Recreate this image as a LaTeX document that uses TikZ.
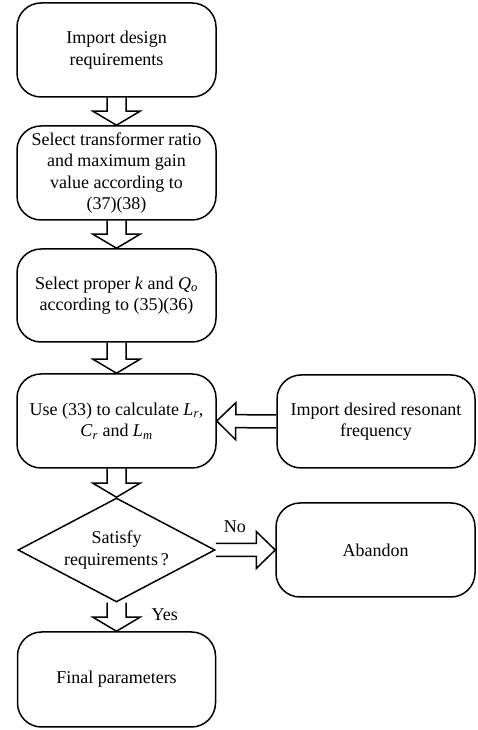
\documentclass[tikz,border=0pt]{standalone}
\usepackage{fontspec}
\setmainfont{Liberation Serif}
\usetikzlibrary{shapes.geometric, calc}
\tikzset{block/.style={draw, line width=1.5pt, rounded corners=24pt, minimum width=199pt, minimum height=94pt, align=center, inner sep=2pt}}
\tikzset{decision/.style={draw, line width=1.5pt, diamond, aspect=1.9, minimum width=197pt, minimum height=104pt, align=center, inner sep=0pt}}
\newcommand{\ital}[2]{\textit{#1}\textsubscript{\textit{#2}}}
\newcommand{\fatarrow}[5]{%
  \draw[line width=1.5pt, line join=miter] let \p1=(#1), \p2=(#2),
    \n1={atan2(\y2-\y1,\x2-\x1)}, \n2={veclen(\x2-\x1,\y2-\y1)} in
    {[shift={(\p1)}, rotate=\n1]
      (0pt,-#3) -- (\n2-#5,-#3) -- (\n2-#5,-#4) -- (\n2,0pt)
      -- (\n2-#5,#4) -- (\n2-#5,#3) -- (0pt,#3)};
}

\begin{document}
\begin{tikzpicture}[x=1pt, y=1pt, font=\fontsize{18}{21.5}\selectfont]
            \useasboundingbox (0,0) rectangle (478,730);
            \node[block] (import) at (116.5, 680) {Import design\\requirements};
            \node[block] (ratio) at (116.5, 557) {Select transformer ratio\\and maximum gain\\value according to\\(37)(38)};
            \node[block, minimum height=93pt] (kq) at (116.5, 434.5) {Select proper \textit{k} and \ital{Q}{o}\\according to (35)(36)};
            \node[block] (calc) at (116.5, 309) {Use (33) to calculate \ital{L}{r},\\\ital{C}{r} and \ital{L}{m}};
            \node[block, minimum width=198pt, minimum height=93pt] (freq) at (376, 308.5) {Import desired resonant\\frequency};
            \node[decision] (check) at (116.5, 180) {Satisfy\\requirements\,?};
            \node[block] (abandon) at (375.5, 180) {Abandon};
            \node[block, minimum width=198pt, minimum height=95pt] (final) at (116.5, 50.5) {Final parameters};
            \fatarrow{import.south}{ratio.north}{9.5pt}{23.5pt}{14pt}
            \fatarrow{ratio.south}{kq.north}{9.5pt}{23.5pt}{14pt}
            \fatarrow{kq.south}{calc.north}{9.5pt}{23.5pt}{14pt}
            \fatarrow{calc.south}{check.north}{9.5pt}{23.5pt}{14pt}
            \fatarrow{check.south}{final.north}{9.5pt}{23.5pt}{14pt}
            \fatarrow{freq.west}{calc.east}{6.5pt}{18.5pt}{19pt}
            \fatarrow{check.east}{abandon.west}{6.5pt}{18.5pt}{19pt}
            \node[anchor=south west, inner sep=0pt] (no) at ([shift={(8pt,17pt)}]check.east) {No};
            \node[anchor=base west, inner sep=0pt] (yes) at ([shift={(35pt,-18pt)}]check.south) {Yes};
        \end{tikzpicture}
\end{document}
